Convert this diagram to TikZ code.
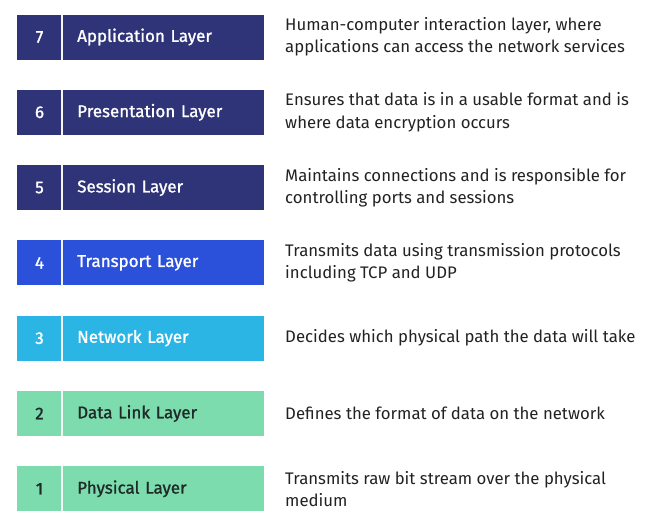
\documentclass[tikz,border=0pt]{standalone}
\usepackage{fontspec}
\setmainfont{Fira Sans}
\newfontfamily\boxfont[FakeBold=1.2]{Fira Sans}
\usetikzlibrary{positioning}
\definecolor{navyfill}{HTML}{2E3477}
\definecolor{transfill}{HTML}{2B50DA}
\definecolor{netfill}{HTML}{2BB5E5}
\definecolor{linkfill}{HTML}{7CDCAE}
\definecolor{darktext}{HTML}{1F2A28}
\definecolor{desctext}{HTML}{222222}
\tikzset{
  numcell/.style={rectangle, inner sep=0pt, minimum width=1.35cm, minimum height=1.35cm,
                  font=\boxfont\fontsize{14.5}{17}\selectfont},
  layercell/.style={rectangle, inner sep=0pt, inner xsep=0.45cm, minimum width=6.06cm,
                    minimum height=1.35cm, text width=5.16cm, align=left,
                    font=\boxfont\fontsize{14.5}{17}\selectfont},
  desc/.style={inner sep=0pt, align=left, text=desctext,
               font=\fontsize{14.3}{19}\selectfont},
  sepline/.style={draw=white!85!lightgray, line width=1.4pt},
}
\def\rowgap{2.259}

\begin{document}
\begin{tikzpicture}
\useasboundingbox (0,0) rectangle (19.86,-15.87);

% One row per layer, top (7) to bottom (1). Number cell, name cell, then the
% description to the right, all centred on the same y.
\foreach \n/\name/\fillc/\txtc/\info in {
  7/Application Layer/navyfill/white/{Human-computer interaction layer, where\\applications can access the network services},
  6/Presentation Layer/navyfill/white/{Ensures that data is in a usable format and is\\where data encryption occurs},
  5/Session Layer/navyfill/white/{Maintains connections and is responsible for\\controlling ports and sessions},
  4/Transport Layer/transfill/white/{Transmits data using transmission protocols\\including TCP and UDP},
  3/Network Layer/netfill/white/{Decides which physical path the data will take},
  2/Data Link Layer/linkfill/darktext/{Defines the format of data on the network},
  1/Physical Layer/linkfill/darktext/{Transmits raw bit stream over the physical\\medium}} {
  \pgfmathsetmacro{\yy}{-(1.11+(7-\n)*\rowgap)}
  \node[numcell, fill=\fillc, text=\txtc] (num\n) at (1.185,\yy) {\n};
  \node[layercell, fill=\fillc, text=\txtc, anchor=west] (lay\n) at (1.86,\yy) {\name};
  \node[desc, anchor=west] (desc\n) at (8.55,\yy) {\info};
  \draw[sepline] (lay\n.north west) -- (lay\n.south west);
}

\end{tikzpicture}
\end{document}
